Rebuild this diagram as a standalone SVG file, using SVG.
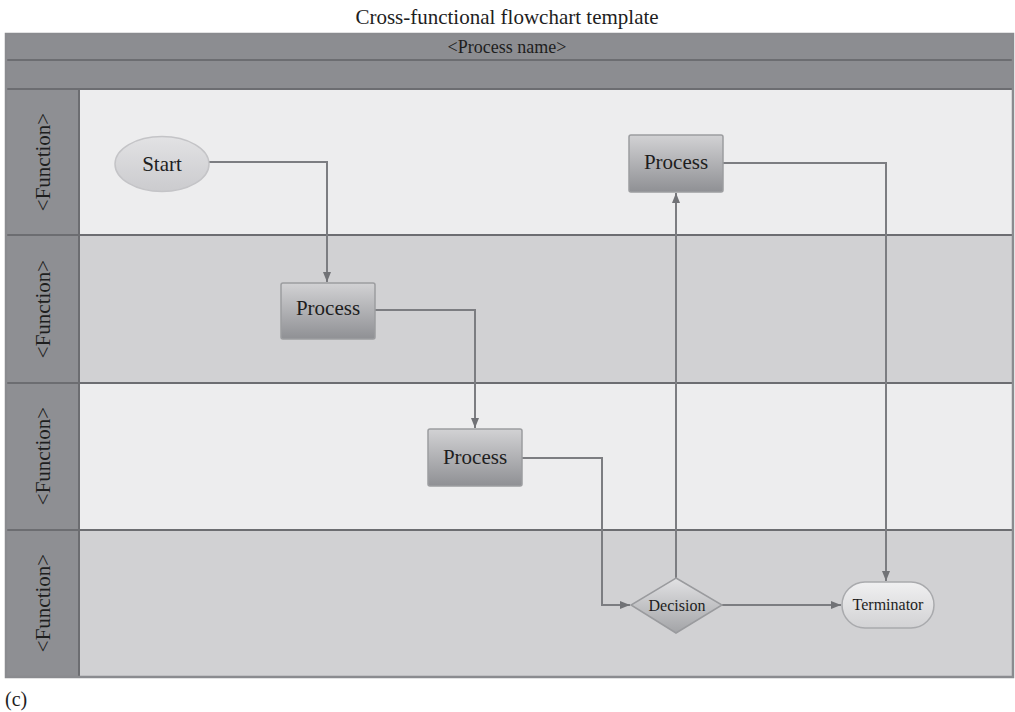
<svg xmlns="http://www.w3.org/2000/svg" width="1015" height="712" viewBox="0 0 1015 712">
  <defs>
    <linearGradient id="gProc" x1="0" y1="0" x2="0" y2="1">
      <stop offset="0" stop-color="#d2d2d4"/>
      <stop offset="1" stop-color="#8f9094"/>
    </linearGradient>
    <linearGradient id="gStart" x1="0" y1="0" x2="0" y2="1">
      <stop offset="0" stop-color="#e2e2e4"/>
      <stop offset="1" stop-color="#cbcbce"/>
    </linearGradient>
    <linearGradient id="gDec" x1="0" y1="0" x2="0" y2="1">
      <stop offset="0" stop-color="#e2e2e4"/>
      <stop offset="1" stop-color="#a3a4a7"/>
    </linearGradient>
    <linearGradient id="gTerm" x1="0" y1="0" x2="0" y2="1">
      <stop offset="0" stop-color="#f0f0f1"/>
      <stop offset="1" stop-color="#d2d2d4"/>
    </linearGradient>
    <marker id="arrow" viewBox="0 0 10 10" refX="10" refY="5" markerWidth="5" markerHeight="5" markerUnits="strokeWidth" orient="auto">
      <path d="M0,1 L10,5 L0,9 z" fill="#717276"/>
    </marker>
  </defs>
  <style>
    text { font-family: "Liberation Serif", "DejaVu Serif", serif; fill: #1e1e1e; }
    .band { fill: #8c8d91; stroke: #6c6d71; stroke-width: 2; }
    .laneLight { fill: #ededee; }
    .laneDark { fill: #d1d1d3; }
    .side { fill: #8e8f93; stroke: #6c6d71; stroke-width: 2; }
    .divider { stroke: #6c6d71; stroke-width: 2; fill: none; }
    .fn { font-size: 21px; text-anchor: middle; }
    .proc rect { fill: url(#gProc); stroke: #9c9da0; stroke-width: 1.5; }
    .lbl { font-size: 21px; text-anchor: middle; }
    .small { font-size: 16px; text-anchor: middle; }
    .conn path { fill: none; stroke: #7c7d81; stroke-width: 2; }
  </style>

  <rect width="1015" height="712" fill="#ffffff"/>

  <!-- title -->
  <text x="507" y="24" font-size="21" text-anchor="middle">Cross-functional flowchart template</text>

  <!-- pool frame -->
  <g id="pool">
    <rect class="laneLight" x="79" y="89" width="934" height="146"/>
    <rect class="laneDark" x="79" y="235" width="934" height="148"/>
    <rect class="laneLight" x="79" y="383" width="934" height="147"/>
    <rect class="laneDark" x="79" y="530" width="934" height="147"/>
    <rect class="band" x="6" y="34" width="1007" height="26"/>
    <rect class="band" x="6" y="60" width="1007" height="29"/>
    <text x="507" y="53" font-size="18" text-anchor="middle">&lt;Process name&gt;</text>
    <rect class="side" x="6" y="89" width="73" height="146"/>
    <rect class="side" x="6" y="235" width="73" height="148"/>
    <rect class="side" x="6" y="383" width="73" height="147"/>
    <rect class="side" x="6" y="530" width="73" height="147"/>
    <path class="divider" d="M6,235 H1013 M6,383 H1013 M6,530 H1013"/>
    <rect x="6" y="34" width="1007" height="643" fill="none" stroke="#8a8b8f" stroke-width="2.5"/>
    <text class="fn" transform="translate(50,162) rotate(-90)">&lt;Function&gt;</text>
    <text class="fn" transform="translate(50,309) rotate(-90)">&lt;Function&gt;</text>
    <text class="fn" transform="translate(50,456) rotate(-90)">&lt;Function&gt;</text>
    <text class="fn" transform="translate(50,603) rotate(-90)">&lt;Function&gt;</text>
  </g>

  <!-- connectors -->
  <g id="connectors" class="conn">
    <path d="M209,162 H327 V282" marker-end="url(#arrow)"/>
    <path d="M375,310 H475 V428" marker-end="url(#arrow)"/>
    <path d="M522,458 H602 V605 H630" marker-end="url(#arrow)"/>
    <path d="M676,578 V193" marker-end="url(#arrow)"/>
    <path d="M723,163 H886 V581" marker-end="url(#arrow)"/>
    <path d="M722,605 H841" marker-end="url(#arrow)"/>
  </g>

  <!-- nodes -->
  <g id="start">
    <ellipse cx="162" cy="164" rx="47" ry="27.5" fill="url(#gStart)" stroke="#c4c4c7" stroke-width="1.5"/>
    <text class="lbl" x="162" y="171">Start</text>
  </g>
  <g id="process1" class="proc">
    <rect x="629" y="135" width="94" height="57" rx="2"/>
    <text class="lbl" x="676" y="169">Process</text>
  </g>
  <g id="process2" class="proc">
    <rect x="281" y="283" width="94" height="56" rx="2"/>
    <text class="lbl" x="328" y="315">Process</text>
  </g>
  <g id="process3" class="proc">
    <rect x="428" y="429" width="94" height="57" rx="2"/>
    <text class="lbl" x="475" y="464">Process</text>
  </g>
  <g id="decision">
    <path d="M676,578 L722,605 L676,633 L631,605 Z" fill="url(#gDec)" stroke="#9a9b9e" stroke-width="1.5"/>
    <text class="small" x="677" y="611">Decision</text>
  </g>
  <g id="terminator">
    <rect x="842" y="582" width="92" height="46" rx="23" fill="url(#gTerm)" stroke="#a9aaad" stroke-width="1.5"/>
    <text class="small" x="888" y="610">Terminator</text>
  </g>

  <text x="5" y="706" font-size="20">(c)</text>
</svg>
